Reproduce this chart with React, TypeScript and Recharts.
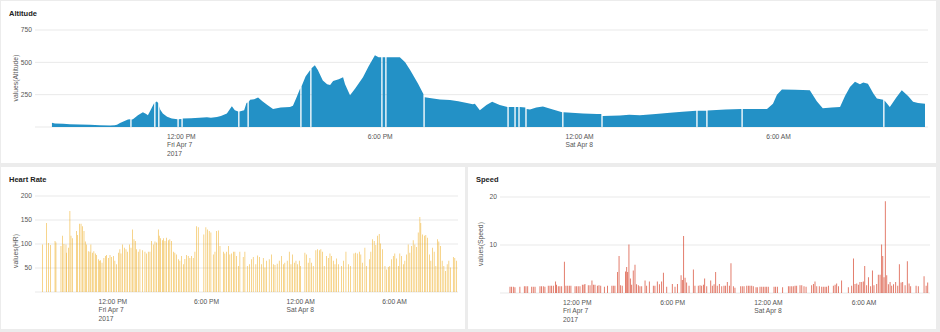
import React from 'react';
import { AreaChart, Area, BarChart, Bar, XAxis, YAxis, CartesianGrid } from 'recharts';

// time is hours since midnight, Fri Apr 7 2017
const tickHours = [12, 18, 24, 30];
const tickLabels = [['12:00 PM', 'Fri Apr 7', '2017'], ['6:00 PM'], ['12:00 AM', 'Sat Apr 8'], ['6:00 AM']];

const altitudeTicks = [0, 250, 500, 750];
const hrTicks = [0, 50, 100, 150, 200];
const speedTicks = [0, 10, 20];

// [hour, altitude]; null = missing sample
const altitude: [number, number | null][] = [
  [8.11, 32], [8.2, 27], [8.45, 25], [8.65, 22], [8.95, 20], [9.26, 17], [9.55, 14], [9.86, 12], [10.0, 13],
  [10.07, 18], [10.16, 30], [10.28, 45], [10.4, 58], [10.47, 60], [10.49, null], [10.51, 58], [10.55, 60],
  [10.7, 90], [10.85, 115], [10.95, 100], [11.0, 90], [11.08, 130], [11.19, 185], [11.21, null], [11.23, 192],
  [11.27, 198], [11.31, 185], [11.33, null], [11.35, 160], [11.37, 135], [11.45, 105], [11.58, 80], [11.72, 65],
  [11.89, 60], [11.91, null], [11.93, 60], [12.01, 62], [12.03, null], [12.05, 65], [12.3, 68], [12.55, 72],
  [12.78, 75], [12.9, 72], [13.08, 78], [13.2, 85], [13.38, 105], [13.53, 160], [13.62, 130], [13.72, 120],
  [13.74, null], [13.76, 120], [13.9, 130], [13.97, 185], [14.0, 190], [14.02, null], [14.04, 195], [14.08, 210],
  [14.2, 215], [14.32, 228], [14.45, 200], [14.6, 170], [14.77, 140], [15.0, 150], [15.28, 155], [15.37, 165],
  [15.48, 230], [15.59, 300], [15.61, null], [15.63, 315], [15.75, 390], [15.89, 440], [15.91, null], [15.93, 455],
  [16.03, 478], [16.12, 440], [16.27, 360], [16.4, 330], [16.49, 325], [16.58, 355], [16.75, 370], [16.88, 385],
  [16.94, 330], [17.09, 245], [17.25, 300], [17.48, 385], [17.65, 470], [17.84, 555], [17.95, 540], [18.03, 540],
  [18.05, null], [18.07, 540], [18.15, 540], [18.17, null], [18.19, 540], [18.59, 540], [18.75, 500], [18.9, 440],
  [19.14, 335], [19.3, 255], [19.32, null], [19.34, 230], [19.59, 220], [19.8, 212], [20.1, 208], [20.35, 200],
  [20.61, 185], [20.79, 175], [20.85, 180], [21.0, 130], [21.2, 170], [21.37, 195], [21.6, 170], [21.83, 155],
  [21.85, null], [21.87, 155], [22.04, 155], [22.06, null], [22.08, 155], [22.16, 155], [22.18, null], [22.2, 155],
  [22.37, 150], [22.39, null], [22.41, 140], [22.51, 135], [22.7, 150], [22.9, 158], [23.2, 135], [23.48, 115],
  [23.5, null], [23.52, 115], [24.11, 105], [24.53, 100], [24.66, 100], [24.68, null], [24.7, 85], [25.22, 88],
  [25.5, 95], [25.82, 90], [26.3, 100], [26.73, 110], [27.1, 118], [27.52, 125], [27.54, null], [27.56, 125],
  [27.82, 125], [27.84, null], [27.86, 128], [28.4, 135], [28.88, 140], [28.9, null], [28.92, 140], [29.65, 140],
  [29.83, 180], [29.95, 250], [30.1, 290], [30.5, 288], [30.94, 285], [31.15, 200], [31.33, 145], [31.6, 150],
  [31.85, 155], [32.0, 240], [32.15, 310], [32.3, 350], [32.45, 330], [32.55, 345], [32.69, 335], [32.85, 260],
  [32.96, 220], [33.15, 210], [33.17, null], [33.19, 205], [33.35, 155], [33.55, 230], [33.71, 285], [33.9, 240],
  [34.05, 195], [34.2, 185], [34.41, 180],
];

// [hour, heart rate]
const heartRate: [number, number][] = [
  [7.54, 99], [7.79, 144], [7.9, 102], [8.05, 98], [8.33, 106], [8.39, 103], [8.71, 96], [8.82, 117], [8.9, 100],
  [9.03, 99], [9.07, 82], [9.18, 92], [9.28, 169], [9.35, 117], [9.45, 112], [9.71, 127], [9.77, 119], [9.88, 142],
  [9.99, 142], [10.09, 137], [10.18, 127], [10.26, 105], [10.35, 99], [10.45, 85], [10.56, 84], [10.62, 99],
  [10.73, 82], [10.81, 85], [10.92, 80], [10.99, 77], [11.09, 68], [11.16, 65], [11.24, 66], [11.33, 61],
  [11.45, 71], [11.54, 75], [11.62, 77], [11.73, 71], [11.84, 77], [11.94, 73], [12.05, 75], [12.15, 65],
  [12.26, 58], [12.37, 82], [12.47, 89], [12.54, 80], [12.64, 99], [12.75, 92], [12.86, 89], [12.96, 84],
  [13.07, 99], [13.18, 92], [13.28, 130], [13.37, 110], [13.45, 106], [13.54, 89], [13.64, 84], [13.75, 89],
  [13.92, 87], [14.07, 84], [14.18, 80], [14.28, 84], [14.39, 84], [14.49, 106], [14.6, 99], [14.71, 105],
  [14.81, 103], [14.92, 130], [14.98, 117], [15.07, 112], [15.18, 108], [15.24, 112], [15.35, 106], [15.45, 113],
  [15.56, 108], [15.66, 110], [15.77, 106], [15.88, 84], [15.98, 82], [16.09, 78], [16.2, 68], [16.3, 65],
  [16.41, 75], [16.52, 58], [16.62, 69], [16.73, 77], [16.83, 75], [16.94, 71], [17.05, 75], [17.15, 71],
  [17.26, 84], [17.37, 137], [17.47, 135], [17.83, 120], [17.96, 135], [18.07, 130], [18.17, 127], [18.28, 124],
  [18.43, 78], [18.54, 84], [18.64, 127], [18.75, 128], [18.86, 96], [19.07, 84], [19.17, 80], [19.28, 84],
  [19.39, 96], [19.49, 78], [19.6, 80], [19.71, 84], [19.81, 84], [19.92, 75], [20.03, 54], [20.13, 84],
  [20.34, 73], [20.45, 84], [20.6, 54], [20.73, 58], [20.88, 68], [20.98, 73], [21.15, 58], [21.26, 76],
  [21.37, 73], [21.52, 58], [21.62, 71], [21.73, 51], [21.83, 65], [22.0, 68], [22.15, 78], [22.26, 58],
  [22.37, 56], [22.51, 59], [22.64, 65], [22.79, 75], [22.9, 58], [23.0, 61], [23.15, 65], [23.28, 84],
  [23.39, 58], [23.49, 78], [23.6, 61], [23.71, 65], [23.81, 58], [23.92, 65], [24.0, 54], [24.28, 82],
  [24.39, 78], [24.49, 61], [24.6, 71], [24.71, 61], [24.81, 54], [24.98, 87], [25.09, 89], [25.2, 87],
  [25.3, 89], [25.41, 84], [25.51, 54], [25.66, 75], [25.77, 71], [25.88, 80], [25.98, 75], [26.09, 65],
  [26.2, 58], [26.3, 70], [26.41, 58], [26.62, 54], [26.73, 65], [26.9, 84], [27.05, 58], [27.19, 54],
  [27.41, 80], [27.51, 82], [27.62, 80], [27.75, 84], [27.85, 78], [27.96, 61], [28.11, 92], [28.22, 54],
  [28.39, 68], [28.49, 84], [28.6, 110], [28.7, 106], [28.81, 98], [28.92, 117], [29.02, 121], [29.11, 101],
  [29.24, 89], [29.39, 54], [29.49, 47], [29.6, 52], [29.7, 54], [29.81, 68], [29.92, 75], [30.02, 80],
  [30.13, 70], [30.24, 54], [30.34, 80], [30.45, 75], [30.56, 58], [30.66, 65], [30.77, 78], [30.87, 99],
  [30.98, 82], [31.09, 96], [31.19, 108], [31.3, 99], [31.41, 94], [31.51, 124], [31.62, 156], [31.68, 144],
  [31.79, 120], [31.9, 117], [32.0, 119], [32.11, 113], [32.22, 78], [32.32, 65], [32.43, 92], [32.53, 84],
  [32.64, 54], [32.73, 110], [32.83, 105], [32.94, 96], [33.04, 65], [33.15, 54], [33.26, 44], [33.36, 58],
  [33.47, 65], [33.58, 51], [33.75, 73], [33.85, 71], [33.96, 65], [34.07, 47],
];

// [hour, speed]
const speed: [number, number][] = [
  [7.8, 1.3], [7.9, 1.3], [8.01, 1.3], [8.11, 1.2], [8.42, 1.3], [8.7, 1.4], [8.8, 1.4], [8.91, 1.4], [9.16, 1.3],
  [9.26, 1.3], [9.37, 1.3], [9.68, 1.4], [9.78, 1.4], [9.89, 1.4], [9.99, 1.3], [10.2, 1.5], [10.31, 1.5],
  [10.41, 1.5], [10.52, 1.5], [10.66, 2.4], [10.72, 1.7], [10.83, 1.4], [10.93, 1.4], [11.04, 1.4], [11.21, 6.5],
  [11.31, 1.5], [11.42, 1.5], [11.52, 1.5], [11.62, 1.5], [11.88, 1.4], [11.98, 1.4], [12.08, 1.4], [12.19, 1.4],
  [12.34, 1.7], [12.44, 1.7], [12.5, 1.9], [12.71, 1.6], [12.82, 1.6], [12.94, 2.6], [13.03, 1.7], [13.13, 1.7],
  [13.28, 1.5], [13.38, 1.6], [13.49, 1.5], [13.72, 1.3], [13.92, 1.5], [14.19, 1.5], [14.28, 1.5], [14.38, 1.5],
  [14.55, 4.4], [14.64, 7.7], [14.74, 1.6], [14.84, 1.5], [15.05, 4.5], [15.12, 5.4], [15.18, 4.4], [15.26, 10.1],
  [15.35, 3.0], [15.43, 1.7], [15.53, 4.7], [15.64, 5.9], [15.74, 1.8], [15.85, 1.6], [15.95, 1.4], [16.06, 1.4],
  [16.27, 2.6], [16.37, 1.5], [16.54, 2.4], [16.79, 1.5], [16.89, 1.5], [17.04, 2.4], [17.17, 1.8], [17.31, 2.4],
  [17.42, 4.2], [17.63, 1.3], [17.98, 1.9], [18.15, 1.3], [18.3, 1.9], [18.53, 3.7], [18.61, 2.7], [18.69, 11.9],
  [18.78, 3.2], [18.88, 2.2], [19.03, 1.5], [19.3, 4.9], [19.4, 1.5], [19.61, 1.5], [19.72, 1.6], [19.82, 1.5],
  [19.93, 1.7], [20.01, 3.0], [20.14, 1.4], [20.39, 2.6], [20.49, 1.5], [20.6, 1.8], [20.7, 4.4], [20.8, 1.5],
  [20.93, 1.9], [21.08, 1.4], [21.22, 1.5], [21.31, 1.5], [21.43, 2.3], [21.56, 1.5], [21.66, 6.2], [21.81, 1.4],
  [21.91, 1.1], [22.27, 1.4], [22.37, 1.4], [22.48, 1.4], [22.65, 1.5], [22.75, 1.5], [22.85, 1.5], [22.96, 1.5],
  [23.06, 1.4], [23.23, 1.2], [23.31, 1.2], [23.48, 1.3], [23.59, 1.3], [23.69, 1.3], [23.8, 1.3], [23.9, 1.3],
  [24.0, 1.3], [24.36, 1.3], [24.46, 1.3], [24.57, 1.3], [24.9, 1.2], [25.26, 1.4], [25.36, 1.4], [25.47, 1.4],
  [25.57, 1.4], [25.68, 1.5], [25.78, 1.5], [25.99, 1.6], [26.1, 1.6], [26.24, 1.4], [26.37, 1.3], [26.72, 1.6],
  [26.83, 1.9], [26.93, 2.4], [27.04, 1.4], [27.2, 1.4], [27.35, 1.3], [27.45, 1.3], [27.56, 1.3], [27.66, 1.3],
  [27.77, 1.5], [28.08, 1.5], [28.19, 1.7], [28.29, 2.0], [28.4, 1.4], [28.6, 2.6], [29.02, 1.2], [29.23, 1.5],
  [29.34, 7.2], [29.44, 1.9], [29.55, 2.0], [29.65, 1.7], [29.75, 2.3], [29.86, 2.3], [29.96, 2.4], [30.05, 5.6],
  [30.17, 1.6], [30.28, 3.3], [30.42, 1.4], [30.53, 4.7], [30.63, 1.6], [30.8, 1.9], [30.9, 3.8], [31.01, 3.8],
  [31.11, 10.1], [31.18, 7.7], [31.26, 3.3], [31.34, 19.1], [31.43, 3.7], [31.53, 1.8], [31.64, 2.3], [31.74, 1.5],
  [31.85, 1.8], [31.99, 2.3], [32.12, 1.5], [32.22, 6.0], [32.33, 2.2], [32.43, 2.3], [32.58, 1.6], [32.72, 6.6],
  [32.83, 2.0], [32.93, 1.4], [33.27, 1.5], [33.41, 1.4], [33.77, 3.5], [33.9, 1.5], [34.0, 2.2],
];

const font = '"Liberation Sans", Arial, sans-serif';
const tickColor = '#555';
const gridColor = '#e9e9e9';

const altitudeRows = altitude.map(([t, v]) => ({ t, v }));
const hrRows = heartRate.map(([t, v]) => ({ t, v }));
const speedRows = speed.map(([t, v]) => ({ t, v }));

const TimeTick = ({ x, y, payload }: any) => {
  const lines = tickLabels[tickHours.indexOf(payload.value)] || [];
  const multi = lines.length > 1;
  return (
    <g>
      {lines.map((s, i) => (
        <text
          key={i}
          x={multi ? x - 14 : x}
          y={y + 11.5 + i * 8.5}
          textAnchor={multi ? 'start' : 'middle'}
          fontSize={6.7}
          fill={tickColor}
          fontFamily={font}
        >
          {s}
        </text>
      ))}
    </g>
  );
};

const hideZero = (v: number) => (v === 0 ? '' : String(v));

const Panel = ({ left, top, width, height, title, yLabel, labelX, labelY, children }: any) => (
  <div style={{ position: 'absolute', left, top, width, height, background: '#fff' }}>
    {children}
    <div
      style={{
        position: 'absolute', left: 8, top: 8.6, fontSize: 7.5, lineHeight: '7.5px',
        fontWeight: 'bold', color: '#222', fontFamily: font, whiteSpace: 'nowrap',
      }}
    >
      {title}
    </div>
    <div
      style={{
        position: 'absolute', left: labelX, top: labelY, fontSize: 6.8, lineHeight: '7px', color: tickColor,
        fontFamily: font, whiteSpace: 'nowrap', transform: 'translate(-50%, -50%) rotate(-90deg)',
      }}
    >
      {yLabel}
    </div>
  </div>
);

const xAxisProps = {
  dataKey: 't',
  type: 'number' as const,
  ticks: tickHours,
  tick: <TimeTick />,
  tickLine: false,
  axisLine: false,
  tickSize: 0,
  tickMargin: 0,
  interval: 0 as const,
  allowDataOverflow: true,
};

const yTick = { fill: tickColor, fontSize: 6.7, fontFamily: font };

export default function App() {
  return (
    <div style={{ position: 'relative', width: 940, height: 332, background: '#ececec', overflow: 'hidden' }}>
      <style>{'body{margin:0}'}</style>

      <Panel left={1} top={1} width={935} height={162} title="Altitude" yLabel="values(Altitude)" labelX={14} labelY={77}>
        <AreaChart width={935} height={162} data={altitudeRows} margin={{ top: 29, right: 8, bottom: 0, left: 0 }}>
          <CartesianGrid vertical={false} stroke={gridColor} />
          <XAxis {...xAxisProps} domain={[7.6, 34.5]} height={36} />
          <YAxis
            domain={[0, 750]}
            ticks={altitudeTicks}
            width={34}
            tickSize={0}
            tickMargin={3}
            axisLine={false}
            tickLine={false}
            tick={yTick}
            tickFormatter={hideZero}
          />
          <Area
            type="linear"
            dataKey="v"
            stroke="none"
            fill="#2391c6"
            fillOpacity={1}
            isAnimationActive={false}
            dot={false}
            activeDot={false}
          />
        </AreaChart>
      </Panel>

      <Panel left={1} top={167} width={464} height={162} title="Heart Rate" yLabel="values(HR)" labelX={14} labelY={84}>
        <BarChart width={464} height={162} data={hrRows} margin={{ top: 29, right: 7, bottom: 0, left: 0 }}>
          <CartesianGrid vertical={false} stroke={gridColor} />
          <XAxis {...xAxisProps} domain={[7.05, 34.05]} height={37} />
          <YAxis
            domain={[0, 200]}
            ticks={hrTicks}
            width={34}
            tickSize={0}
            tickMargin={3}
            axisLine={false}
            tickLine={false}
            tick={yTick}
            tickFormatter={hideZero}
          />
          <Bar dataKey="v" fill="#eeaa18" fillOpacity={0.88} barSize={1.5} isAnimationActive={false} />
        </BarChart>
      </Panel>

      <Panel left={468} top={167} width={468} height={162} title="Speed" yLabel="values(Speed)" labelX={12} labelY={77}>
        <BarChart width={468} height={162} data={speedRows} margin={{ top: 30, right: 6, bottom: 0, left: 0 }}>
          <CartesianGrid vertical={false} stroke={gridColor} />
          <XAxis {...xAxisProps} domain={[7.17, 34.14]} height={36} />
          <YAxis
            domain={[0, 20]}
            ticks={speedTicks}
            width={32}
            tickSize={0}
            tickMargin={3}
            axisLine={false}
            tickLine={false}
            tick={yTick}
            tickFormatter={hideZero}
          />
          <Bar dataKey="v" fill="#d6422a" fillOpacity={0.8} barSize={1.2} isAnimationActive={false} />
        </BarChart>
      </Panel>
    </div>
  );
}
